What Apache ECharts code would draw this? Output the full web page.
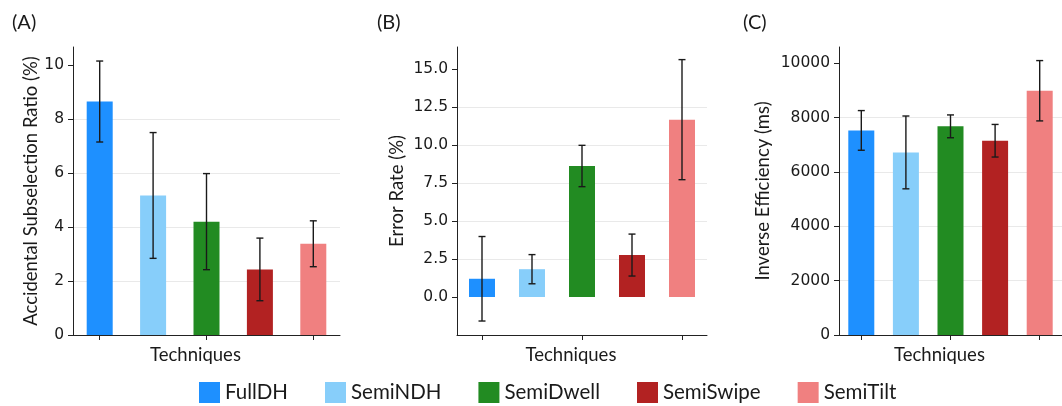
<!DOCTYPE html>
<html>
<head>
<meta charset="utf-8">
<script src="https://cdn.jsdelivr.net/npm/echarts@6/dist/echarts.min.js"></script>
<style>
html,body{margin:0;padding:0;background:#fff;}
#chart{width:1062px;height:406px;}
</style>
</head>
<body>
<div id="chart"></div>
<script>
const categories = ['FullDH', 'SemiNDH', 'SemiDwell', 'SemiSwipe', 'SemiTilt'];
const colors = ['#1e90ff', '#87cefa', '#228b22', '#b22222', '#f08080'];

// (A) Accidental Subselection Ratio (%)
const ratioMean = [8.65, 5.17, 4.20, 2.43, 3.38];
const ratioErr  = [1.50, 2.33, 1.78, 1.16, 0.85];
const ratioTicks = [0, 2, 4, 6, 8, 10];

// (B) Error Rate (%)
const errorMean = [1.20, 1.83, 8.62, 2.76, 11.67];
const errorErr  = [2.78, 0.96, 1.36, 1.38, 3.95];
const errorTicks = [0, 2.5, 5, 7.5, 10, 12.5, 15];

// (C) Inverse Efficiency (ms)
const ieMean = [7530, 6720, 7680, 7150, 8990];
const ieErr  = [730, 1340, 420, 600, 1110];
const ieTicks = [0, 2000, 4000, 6000, 8000, 10000];

const panels = [
  {letter: '(A)', name: 'Accidental Subselection Ratio (%)', mean: ratioMean, err: ratioErr, ticks: ratioTicks,
   grid: {left: 73, top: 47, width: 267, bottom: 71}, min: 0, max: 10.67, interval: 2, nameGap: 32,
   fmt: v => String(v), letterLeft: 7},
  {letter: '(B)', name: 'Error Rate (%)', mean: errorMean, err: errorErr, ticks: errorTicks,
   grid: {left: 457, top: 47, width: 250, bottom: 71}, min: -2.5, max: 16.45, interval: 2.5, nameGap: 50,
   fmt: v => v.toFixed(1), letterLeft: 372},
  {letter: '(C)', name: 'Inverse Efficiency (ms)', mean: ieMean, err: ieErr, ticks: ieTicks,
   grid: {left: 839, top: 47, width: 234, bottom: 71}, min: 0, max: 10600, interval: 2000, nameGap: 66,
   fmt: v => String(v), letterLeft: 738}
];

const axisColor = '#222';
const textColor = '#1a1a1a';

function renderErr(params, api) {
  const x = api.value(0), lo = api.value(1), hi = api.value(2);
  const pHi = api.coord([x, hi]);
  const pLo = api.coord([x, lo]);
  const w = 3.5;
  const style = {stroke: '#1a1a1a', lineWidth: 1.4};
  return {
    type: 'group',
    children: [
      {type: 'line', shape: {x1: pHi[0], y1: pHi[1], x2: pLo[0], y2: pLo[1]}, style: style},
      {type: 'line', shape: {x1: pHi[0] - w, y1: pHi[1], x2: pHi[0] + w, y2: pHi[1]}, style: style},
      {type: 'line', shape: {x1: pLo[0] - w, y1: pLo[1], x2: pLo[0] + w, y2: pLo[1]}, style: style}
    ]
  };
}

const grids = [], xAxes = [], yAxes = [], series = [], titles = [];
panels.forEach((p, pi) => {
  grids.push(Object.assign({containLabel: false}, p.grid));
  titles.push({text: p.letter, left: p.letterLeft, top: 8,
    textStyle: {fontFamily: 'Lato', fontSize: 20, fontWeight: 'normal', color: textColor}});
  xAxes.push({
    type: 'category', gridIndex: pi, data: categories,
    name: 'Techniques', nameLocation: 'middle', nameGap: 11,
    nameTextStyle: {fontFamily: 'Lato', fontSize: 18.5, color: textColor, padding: [0, 22, 0, 0]},
    axisLine: {onZero: false, lineStyle: {color: axisColor, width: 1}},
    axisTick: {show: true, alignWithLabel: true, length: 5, lineStyle: {color: axisColor}},
    axisLabel: {show: false},
    splitLine: {show: false}
  });
  yAxes.push({
    type: 'value', gridIndex: pi, min: p.min, max: p.max, interval: p.interval,
    name: p.name, nameLocation: 'middle', nameGap: p.nameGap,
    nameTextStyle: {fontFamily: 'Lato', fontSize: 18.5, color: textColor},
    axisLine: {show: true, lineStyle: {color: axisColor, width: 1}},
    axisTick: {show: true, length: 5, lineStyle: {color: axisColor}, customValues: p.ticks},
    axisLabel: {fontFamily: 'DejaVu Sans', fontSize: 15.5, color: textColor, margin: 9,
      customValues: p.ticks, formatter: p.fmt},
    splitLine: {show: true, showMinLine: false, showMaxLine: false, lineStyle: {color: '#e9e9e9', width: 1}}
  });
  categories.forEach((c, ci) => {
    series.push({
      type: 'bar', name: c, xAxisIndex: pi, yAxisIndex: pi, stack: 'p' + pi,
      barWidth: 26, itemStyle: {color: colors[ci]},
      data: categories.map((_, k) => k === ci ? p.mean[k] : '-'),
      z: 2
    });
  });
  series.push({
    type: 'custom', xAxisIndex: pi, yAxisIndex: pi, renderItem: renderErr, z: 10,
    encode: {x: 0, y: [1, 2]},
    data: p.mean.map((m, k) => [k, m - p.err[k], m + p.err[k]]),
    silent: true
  });
});

const chart = echarts.init(document.getElementById('chart'), null, {renderer: 'canvas'});
chart.setOption({
  animation: false,
  backgroundColor: '#fff',
  color: colors,
  title: titles,
  legend: {
    data: categories, left: 199, top: 382, padding: 0, icon: 'rect',
    itemWidth: 21, itemHeight: 21, itemGap: 37,
    textStyle: {fontFamily: 'Lato', fontSize: 20.5, color: textColor}
  },
  grid: grids, xAxis: xAxes, yAxis: yAxes, series: series
});
</script>
</body>
</html>
